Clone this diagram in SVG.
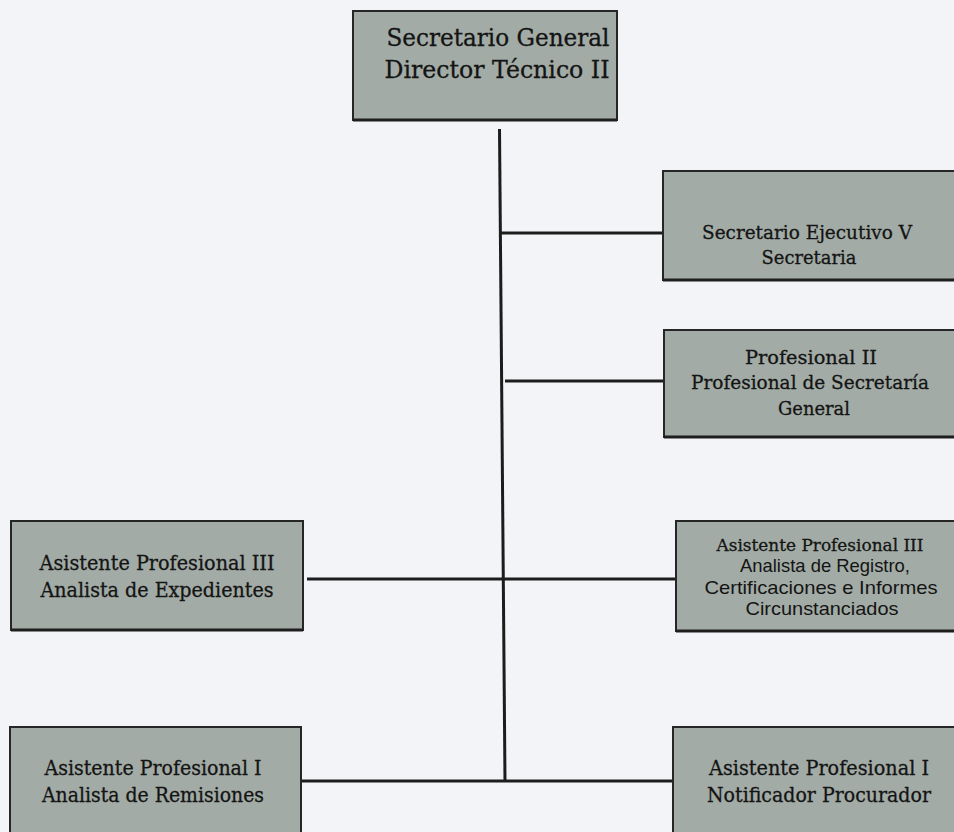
<svg xmlns="http://www.w3.org/2000/svg" width="954" height="832" viewBox="0 0 954 832">
<style>
.bg{fill:#f3f4f7}
.box{fill:#a2aba5;stroke:#262626;stroke-width:2}
.sh{stroke:#1e1e1e;stroke-width:3}
.t{font-family:"DejaVu Serif","Liberation Serif",serif;fill:#141414;stroke:#141414;stroke-width:0.3;text-anchor:middle}
.a{font-family:"Liberation Sans",Arial,sans-serif;fill:#141414;text-anchor:middle}
.c{stroke:#1c1c1c;stroke-width:3;fill:none}
</style>
<rect class="bg" x="0" y="0" width="954" height="832"/>
<g id="connectors">
<line class="c" x1="499.5" y1="129" x2="505" y2="782"/>
<line class="c" x1="500" y1="233" x2="663" y2="233"/>
<line class="c" x1="505" y1="381" x2="664" y2="381"/>
<line class="c" x1="307" y1="579" x2="676" y2="579"/>
<line class="c" x1="301" y1="781" x2="673" y2="781"/>
</g>
<g id="n-secretario-general">
<rect class="box" x="353" y="11" width="264" height="109"/>
<line class="sh" x1="353" y1="120" x2="617" y2="120"/>
<text class="t" font-size="24" x="498" y="46" textLength="223" lengthAdjust="spacingAndGlyphs">Secretario General</text>
<text class="t" font-size="24" x="497" y="78" textLength="225" lengthAdjust="spacingAndGlyphs">Director Técnico II</text>
</g>
<g id="n-secretario-ejecutivo">
<rect class="box" x="663" y="171" width="300" height="109"/>
<line class="sh" x1="663" y1="280" x2="954" y2="280"/>
<text class="t" font-size="19" x="807" y="239" textLength="210" lengthAdjust="spacingAndGlyphs">Secretario Ejecutivo V</text>
<text class="t" font-size="19" x="809" y="264" textLength="95" lengthAdjust="spacingAndGlyphs">Secretaria</text>
</g>
<g id="n-profesional-ii">
<rect class="box" x="664" y="330" width="300" height="107"/>
<line class="sh" x1="664" y1="437" x2="954" y2="437"/>
<text class="t" font-size="19" x="811" y="364" textLength="132" lengthAdjust="spacingAndGlyphs">Profesional II</text>
<text class="t" font-size="19" x="810" y="389" textLength="238" lengthAdjust="spacingAndGlyphs">Profesional de Secretaría</text>
<text class="t" font-size="19" x="814" y="415" textLength="72" lengthAdjust="spacingAndGlyphs">General</text>
</g>
<g id="n-analista-registro">
<rect class="box" x="676" y="521" width="290" height="110"/>
<line class="sh" x1="676" y1="631" x2="954" y2="631"/>
<text class="t" font-size="16.5" x="820" y="551" textLength="207" lengthAdjust="spacingAndGlyphs">Asistente Profesional III</text>
<text class="a" font-size="19" x="825" y="572" textLength="170" lengthAdjust="spacingAndGlyphs">Analista de Registro,</text>
<text class="a" font-size="19" x="821" y="594" textLength="233" lengthAdjust="spacingAndGlyphs">Certificaciones e Informes</text>
<text class="a" font-size="19" x="822" y="615" textLength="153" lengthAdjust="spacingAndGlyphs">Circunstanciados</text>
</g>
<g id="n-analista-expedientes">
<rect class="box" x="11" y="521" width="292" height="109"/>
<line class="sh" x1="11" y1="630" x2="303" y2="630"/>
<text class="t" font-size="20" x="157" y="570" textLength="235" lengthAdjust="spacingAndGlyphs">Asistente Profesional III</text>
<text class="t" font-size="20" x="157" y="597" textLength="233" lengthAdjust="spacingAndGlyphs">Analista de Expedientes</text>
</g>
<g id="n-analista-remisiones">
<rect class="box" x="10" y="727" width="291" height="120"/>
<text class="t" font-size="20" x="153" y="775" textLength="217" lengthAdjust="spacingAndGlyphs">Asistente Profesional I</text>
<text class="t" font-size="20" x="153" y="802" textLength="222" lengthAdjust="spacingAndGlyphs">Analista de Remisiones</text>
</g>
<g id="n-notificador">
<rect class="box" x="673" y="727" width="300" height="120"/>
<text class="t" font-size="20" x="819" y="775" textLength="220" lengthAdjust="spacingAndGlyphs">Asistente Profesional I</text>
<text class="t" font-size="20" x="819" y="802" textLength="224" lengthAdjust="spacingAndGlyphs">Notificador Procurador</text>
</g>
</svg>
